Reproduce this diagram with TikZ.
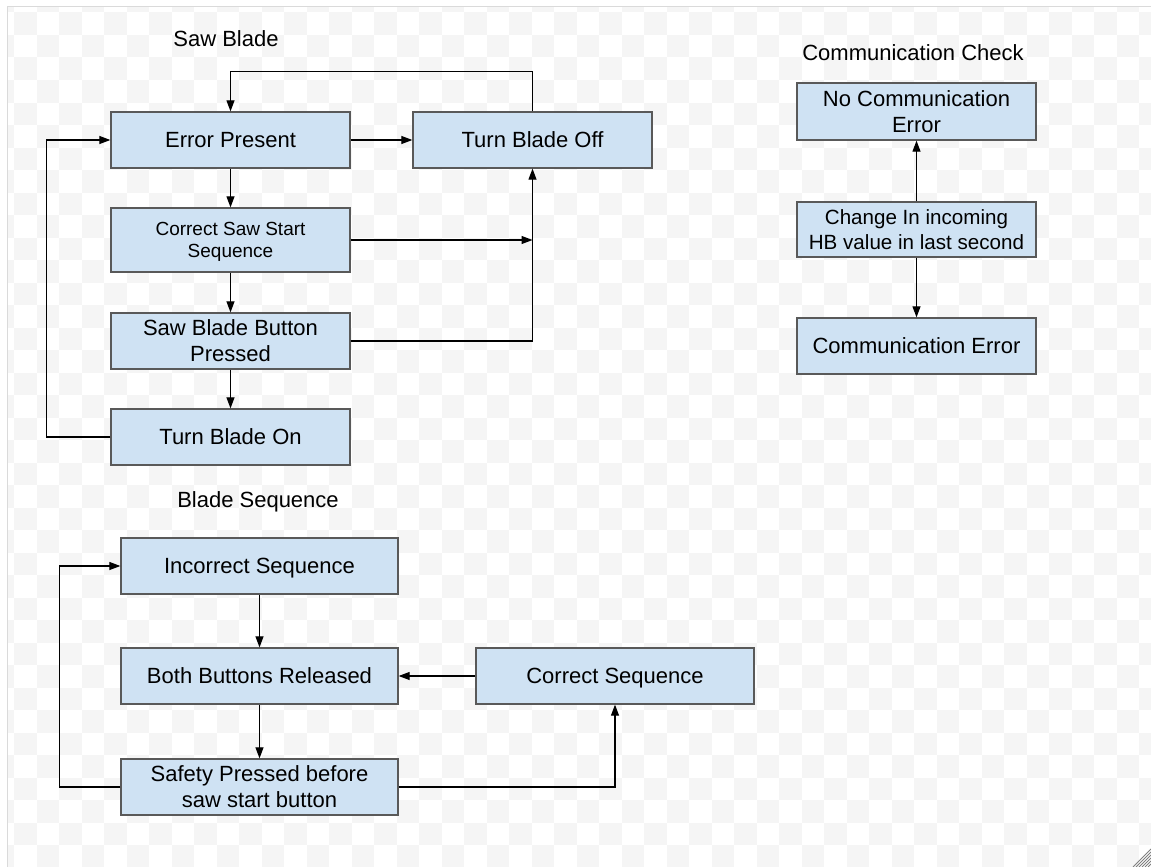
\documentclass[tikz,border=0pt]{standalone}
\usepackage{fontspec}
\setmainfont{Liberation Sans}
\usetikzlibrary{positioning, arrows.meta}
\definecolor{boxblue}{HTML}{CFE2F3}
\definecolor{boxline}{HTML}{595959}
\definecolor{checker}{HTML}{F5F5F5}
\definecolor{frameline}{HTML}{DADADA}
\tikzset{
  block1/.style = {
    shape = rectangle,
    draw = boxline,
    fill = boxblue,
    line width = 1.3pt,
    align = center,
    minimum width = 239pt,
    minimum height = 56pt,
    inner sep = 0pt,
    text depth = 0pt,
    font = \fontsize{22}{26}\selectfont,
  }
}
\tikzset{
  link1/.style = {
    draw = black, line width = 1.1pt, -{Triangle[length = 11pt, width = 8pt]},
  }
}
\tikzset{
  title1/.style = {
    font = \fontsize{22}{26}\selectfont,
  }
}
\begin{document}
\begin{tikzpicture}[x = 1pt, y = -1pt]
            \useasboundingbox (0,0) rectangle (1151,867);
            % checkered canvas
            \begin{scope}
              \clip (7,7) rectangle (1151,867);
              \foreach \i in {-1,...,50}
                \foreach \j in {-1,...,38}
                  {\ifodd\numexpr\i+\j\relax\else
                    \fill[checker] (14.2+22.5*\i, 12.5+22.5*\j) rectangle ++(22.5,22.5);
                  \fi}
            \end{scope}
            \draw[frameline, line width = 1pt] (7,867) -- (7,7) -- (1151,7);
            \foreach \k in {0,...,5}
              \draw[gray, line width = 0.8pt] (1133+3*\k, 867) -- (1151, 849+3*\k);
            % saw blade
            \node[title1](t1) at (226,39){Saw Blade};
            \node[block1](1) at (230.5,140){Error Present};
            \node[block1, right = 61.7pt of 1](2){Turn Blade Off};
            \node[block1, below = 38.7pt of 1, minimum height = 64pt, font = \fontsize{19}{22.5}\selectfont](3){Correct Saw Start\\Sequence};
            \node[block1, below = 39.7pt of 3](4){Saw Blade Button\\Pressed};
            \node[block1, below = 38.7pt of 4](5){Turn Blade On};
            \draw[link1](1) -- (2);
            \draw[link1](1) -- (3);
            \draw[link1](3) -- (4);
            \draw[link1](4) -- (5);
            \draw[link1](3.east) -- (3.east -| 2.south);
            \draw[link1](4.east) -| (2.south);
            \draw[link1](2.north) |- ([yshift = 40pt]1.north) -- (1.north);
            \draw[link1](5.west) -- ++(-64pt, 0) |- (1.west);
            % communication check
            \node[title1](t2) at (913,53){Communication Check};
            \node[block1, minimum height = 57pt, font = \fontsize{22}{25.7}\selectfont](6) at (916.5,111.5){No Communication\\Error};
            \node[block1, below = 60.7pt of 6, minimum height = 55pt, font = \fontsize{20.6}{24.3}\selectfont](7){Change In incoming\\HB value in last second};
            \node[block1, below = 59.7pt of 7](8){Communication Error};
            \draw[link1](7) -- (6);
            \draw[link1](7) -- (8);
            % blade sequence
            \node[title1](t3) at (258,502){Blade Sequence};
            \node[block1, minimum width = 277pt](9) at (259.5,566){Incorrect Sequence};
            \node[block1, minimum width = 277pt, below = 52.7pt of 9](10){Both Buttons Released};
            \node[block1, minimum width = 278pt, right = 76.7pt of 10](11){Correct Sequence};
            \node[block1, minimum width = 277pt, below = 53.7pt of 10](12){Safety Pressed before\\saw start button};
            \draw[link1](9) -- (10);
            \draw[link1](10) -- (12);
            \draw[link1](11) -- (10);
            \draw[link1](12.east) -| (11.south);
            \draw[link1](12.west) -- ++(-61pt, 0) |- (9.west);
        \end{tikzpicture}
\end{document}
